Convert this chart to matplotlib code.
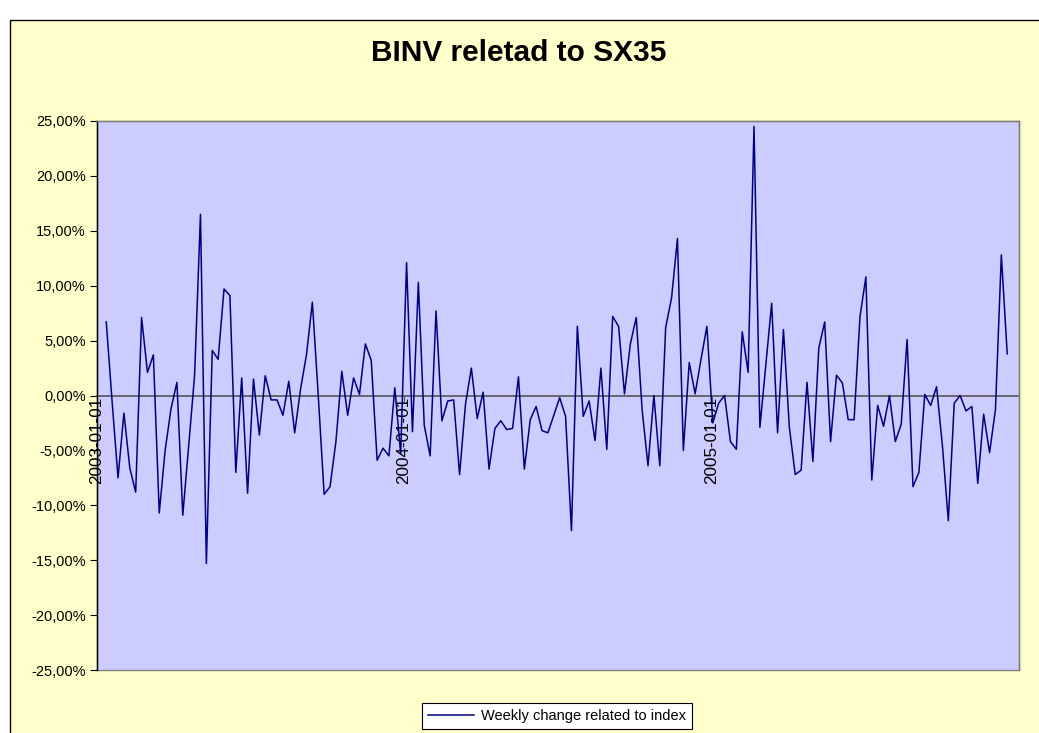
import matplotlib
matplotlib.use("Agg")
import matplotlib.pyplot as plt
import matplotlib.dates as mdates
from matplotlib.patches import Rectangle
from matplotlib.ticker import FixedLocator, FuncFormatter
import pandas as pd

# Weekly change (percent) of BINV relative to SX35 index
values = [
    6.7, -0.6, -7.5, -1.6, -6.6, -8.8, 7.1, 2.1, 3.7, -10.7,
    -5.0, -1.2, 1.2, -10.9, -4.5, 1.8, 16.5, -15.3, 4.1, 3.3,
    9.7, 9.1, -7.0, 1.6, -8.9, 1.5, -3.6, 1.8, -0.4, -0.4,
    -1.8, 1.3, -3.4, 0.6, 3.7, 8.5, 0.0, -9.0, -8.3, -4.2,
    2.2, -1.8, 1.6, 0.1, 4.7, 3.2, -5.9, -4.8, -5.5, 0.7,
    -5.3, 12.1, -3.3, 10.3, -2.7, -5.5, 7.7, -2.3, -0.5, -0.4,
    -7.2, -0.8, 2.5, -2.1, 0.3, -6.7, -3.0, -2.3, -3.1, -3.0,
    1.7, -6.7, -2.2, -1.0, -3.2, -3.4, -1.8, -0.2, -1.9, -12.3,
    6.3, -1.9, -0.5, -4.1, 2.5, -4.9, 7.2, 6.3, 0.15, 4.7,
    7.1, -1.3, -6.4, 0.0, -6.4, 6.2, 8.9, 14.3, -5.0, 3.0,
    0.15, 3.3, 6.3, -2.5, -0.7, 0.0, -4.2, -4.9, 5.8, 2.1,
    24.5, -2.9, 2.8, 8.4, -3.4, 6.0, -2.9, -7.2, -6.8, 1.2,
    -6.0, 4.3, 6.7, -4.2, 1.85, 1.15, -2.2, -2.2, 7.2, 10.8,
    -7.7, -0.9, -2.8, 0.0, -4.2, -2.6, 5.1, -8.3, -7.0, 0.1,
    -0.9, 0.8, -4.6, -11.4, -0.7, 0.0, -1.4, -1.0, -8.0, -1.7,
    -5.2, -1.3, 12.8, 3.8,
]
dates = pd.date_range("2003-01-12", periods=len(values), freq="7D")

title = "BINV reletad to SX35"
series_label = "Weekly change related to index"
date_ticks = ["2003-01-01", "2004-01-01", "2005-01-01"]
y_ticks = [-25, -20, -15, -10, -5, 0, 5, 10, 15, 20, 25]

FONT = "Liberation Sans"
plt.rcParams["font.family"] = [FONT, "DejaVu Sans"]

W, H = 1039, 733
fig = plt.figure(figsize=(W / 100, H / 100), dpi=100, facecolor="white")

# chart area (yellow with black border, cropped at right/bottom)
fig.patches.append(Rectangle((10 / W, -0.05), 1.1, (H - 20) / H + 0.05,
                             transform=fig.transFigure, facecolor="#FFFFCC",
                             edgecolor="black", linewidth=1.0, zorder=-10))

ax = fig.add_axes([97 / W, 1 - 670 / H, (1019 - 97) / W, (670 - 121) / H])
ax.set_zorder(1)
ax.set_facecolor("#CCCCFF")

line, = ax.plot(dates, values, color="#000080", linewidth=1.1, zorder=3,
                label=series_label)

ax.set_ylim(-25, 25)
ax.set_xlim(pd.Timestamp("2003-01-01"), pd.Timestamp("2006-01-01"))

ax.yaxis.set_major_locator(FixedLocator(y_ticks))
ax.yaxis.set_major_formatter(FuncFormatter(lambda v, p: f"{v:.2f}%".replace(".", ",")))
ax.tick_params(axis="y", direction="out", length=5, width=0.8, colors="black",
               labelsize=10.5, pad=3)

tick_dates = [mdates.date2num(pd.Timestamp(d)) for d in date_ticks]
ax.xaxis.set_major_locator(FixedLocator(tick_dates))
ax.xaxis.set_major_formatter(mdates.DateFormatter("%Y-%m-%d"))
ax.tick_params(axis="x", direction="out", length=4, width=0.8, colors="#555555",
               labelsize=12.3, labelrotation=90, pad=-3, labelcolor="black")

for s in ["top", "right"]:
    ax.spines[s].set_color("#808080")
    ax.spines[s].set_linewidth(1.0)
ax.spines["left"].set_color("black")
ax.spines["left"].set_linewidth(1.0)
ax.spines["bottom"].set_position(("data", 0))
ax.spines["bottom"].set_color("#555555")
ax.spines["bottom"].set_linewidth(1.2)
ax.spines["bottom"].set_zorder(2)
ax.add_patch(Rectangle((0, 0), 1, 1, transform=ax.transAxes, fill=False,
                       edgecolor="#808080", linewidth=1.0, clip_on=False, zorder=1))

fig.text(519 / W, 1 - 53 / H, title, ha="center", va="center",
         fontsize=21.5, fontweight="bold", color="black")

leg = fig.legend(handles=[line], labels=[series_label], loc="center",
                 bbox_to_anchor=(557 / W, 1 - 716 / H), frameon=True,
                 fancybox=False, edgecolor="black", framealpha=1,
                 fontsize=10.5, handlelength=3.2, borderpad=0.4,
                 handletextpad=0.5)
leg.get_frame().set_linewidth(0.8)

fig.savefig("out.png", dpi=100, facecolor="white")
